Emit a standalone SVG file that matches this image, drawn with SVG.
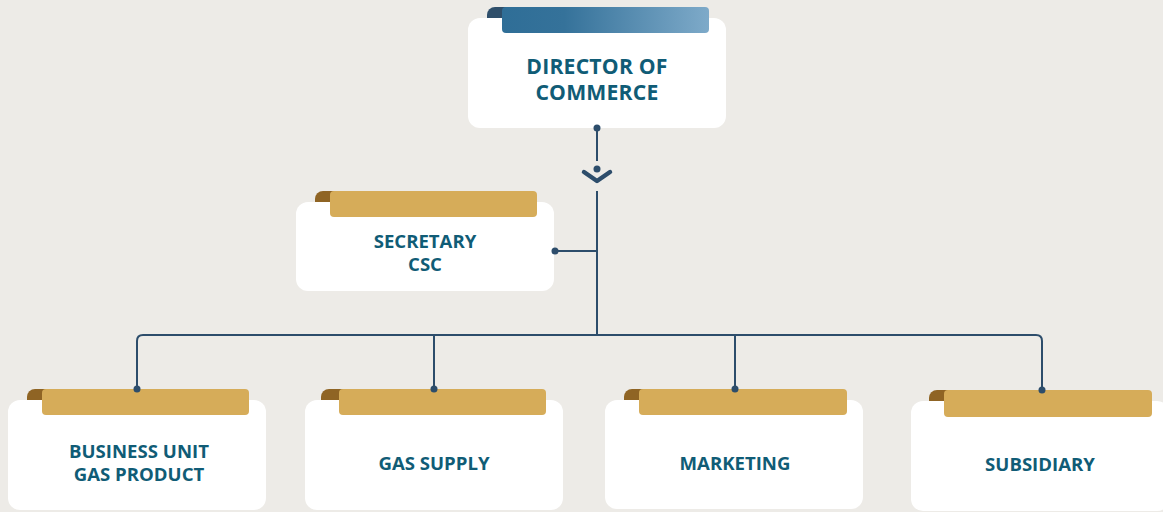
<svg xmlns="http://www.w3.org/2000/svg" width="1163" height="512" viewBox="0 0 1163 512">
<defs>
<linearGradient id="gBlue" x1="0" y1="0" x2="1" y2="0">
<stop offset="0" stop-color="#2f6e97"/>
<stop offset="0.3" stop-color="#35729a"/>
<stop offset="1" stop-color="#7eaac9"/>
</linearGradient>
<style>
.bg{fill:#edebe7}
.card{fill:#ffffff}
.gold{fill:#d6ac59}
.curlg{fill:#8f6424}
.curlb{fill:#2f4f6b}
.t{font-family:"Open Sans","Noto Sans","Liberation Sans",sans-serif;font-weight:700;fill:#105c76;text-anchor:middle}
.big{font-size:21.2px;letter-spacing:0.2px}
.mid{font-size:18.6px}
.ln{fill:none;stroke:#2d4d6b;stroke-width:2}
.dot{fill:#2d4d6b}
</style>
</defs>
<rect class="bg" x="0" y="0" width="1163" height="512"/>
<g id="director">
<path class="curlb" d="M487,20 V15 A8,8 0 0 1 495,7 H508 V20 Z"/>
<rect class="card" x="468" y="18" width="258" height="110" rx="12"/>
<rect x="502" y="7" width="207" height="26" rx="4" fill="url(#gBlue)"/>
<text class="t big" x="597" y="73.5">DIRECTOR OF</text>
<text class="t big" x="597" y="100">COMMERCE</text>
</g>
<g id="secretary">
<path class="curlg" d="M315,204 V199 A8,8 0 0 1 323,191 H336 V204 Z"/>
<rect class="card" x="296" y="202" width="258" height="89" rx="12"/>
<rect class="gold" x="330" y="191" width="207" height="26" rx="4"/>
<text class="t mid" x="425" y="248">SECRETARY</text>
<text class="t mid" x="425" y="271">CSC</text>
</g>
<g id="bu-gas-product">
<path class="curlg" d="M27,402 V397 A8,8 0 0 1 35,389 H48 V402 Z"/>
<rect class="card" x="8" y="400" width="258" height="110" rx="12"/>
<rect class="gold" x="42" y="389" width="207" height="26" rx="4"/>
<text class="t mid" x="139" y="458">BUSINESS UNIT</text>
<text class="t mid" x="139" y="481">GAS PRODUCT</text>
</g>
<g id="gas-supply">
<path class="curlg" d="M321,402 V397 A8,8 0 0 1 329,389 H345 V402 Z"/>
<rect class="card" x="305" y="400" width="258" height="110" rx="12"/>
<rect class="gold" x="339" y="389" width="207" height="26" rx="4"/>
<text class="t mid" x="434" y="470">GAS SUPPLY</text>
</g>
<g id="marketing">
<path class="curlg" d="M624,402 V397 A8,8 0 0 1 632,389 H645 V402 Z"/>
<rect class="card" x="605" y="400" width="258" height="109" rx="12"/>
<rect class="gold" x="639" y="389" width="208" height="26" rx="4"/>
<text class="t mid" x="735" y="470">MARKETING</text>
</g>
<g id="subsidiary">
<path class="curlg" d="M929,403 V398 A8,8 0 0 1 937,390 H950 V403 Z"/>
<rect class="card" x="911" y="401" width="258" height="110" rx="12"/>
<rect class="gold" x="944" y="390" width="208" height="27" rx="4"/>
<text class="t mid" x="1040" y="471">SUBSIDIARY</text>
</g>
<g id="connectors">
<line class="ln" x1="597" y1="128" x2="597" y2="161"/>
<circle class="dot" cx="597" cy="128" r="3.5"/>
<polyline points="584,172 597,181 610,172" fill="none" stroke="#2d4d6b" stroke-width="4.5" stroke-linecap="round" stroke-linejoin="round"/>
<circle class="dot" cx="597" cy="169" r="3.5"/>
<line class="ln" x1="597" y1="191" x2="597" y2="335"/>
<line class="ln" x1="555" y1="251" x2="597" y2="251"/>
<circle class="dot" cx="555" cy="251" r="3.5"/>
<path class="ln" d="M137,389 V341 Q137,335 143,335 H1036 Q1042,335 1042,341 V390"/>
<line class="ln" x1="434" y1="335" x2="434" y2="389"/>
<line class="ln" x1="735" y1="335" x2="735" y2="389"/>
<circle class="dot" cx="137" cy="389" r="3.5"/>
<circle class="dot" cx="434" cy="389" r="3.5"/>
<circle class="dot" cx="735" cy="389" r="3.5"/>
<circle class="dot" cx="1042" cy="390" r="3.5"/>
</g>
</svg>
